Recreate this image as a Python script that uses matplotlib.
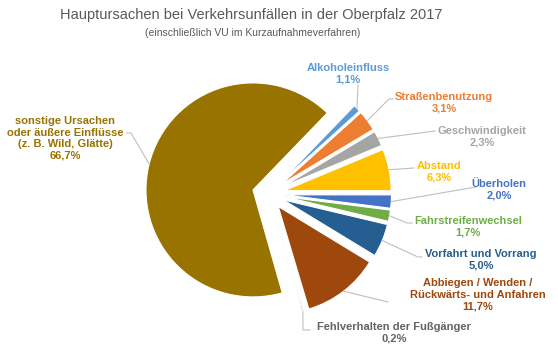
import numpy as np
import matplotlib
matplotlib.use("Agg")
import matplotlib.pyplot as plt

categories = ["Alkoholeinfluss", "Straßenbenutzung", "Geschwindigkeit", "Abstand",
              "Überholen", "Fahrstreifenwechsel", "Vorfahrt und Vorrang",
              "Abbiegen / Wenden /\nRückwärts- und Anfahren",
              "Fehlverhalten der Fußgänger",
              "sonstige Ursachen\noder äußere Einflüsse\n(z. B. Wild, Glätte)"]
values = [1.1, 3.1, 2.3, 6.3, 2.0, 1.7, 5.0, 11.7, 0.2, 66.7]
value_labels = ["1,1%", "3,1%", "2,3%", "6,3%", "2,0%", "1,7%", "5,0%", "11,7%", "0,2%", "66,7%"]
colors = ["#5B9BD5", "#ED7D31", "#A5A5A5", "#FFC000", "#4472C4", "#70AD47",
          "#255E91", "#9E480E", "#636363", "#997300"]
text_colors = ["#5B9BD5", "#ED7D31", "#A5A5A5", "#FFC000", "#4472C4", "#70AD47",
               "#255E91", "#9E480E", "#636363", "#997300"]

W, H = 558, 354
fig = plt.figure(figsize=(W / 100, H / 100), dpi=100)
ax = fig.add_axes([0, 0, 1, 1])

def P(x, y):
    return (x, H - y)

R = 107
EXPL = 16
cx, cy = P(268.5, 193.8)
wedges, _ = ax.pie(values, colors=colors, startangle=46, counterclock=False,
                   radius=R, center=(cx, cy), explode=[EXPL] * len(values),
                   wedgeprops=dict(edgecolor="white", linewidth=0.8),
                   frame=True)
ax.set_xlim(0, W)
ax.set_ylim(0, H)
ax.set_aspect("equal")
ax.axis("off")

# label layout: text center (px), leader path points (px) after the wedge point
label_pos = [
    ((348, 73.5), [(358, 85)]),
    ((444, 103), [(389, 99), (393, 99)]),
    ((482, 136.5), [(435, 131)]),
    ((439, 171.5), [(414, 168)]),
    ((499, 190), [(476, 187)]),
    ((468, 226.5), [(407, 223), (412, 223)]),
    ((481, 260), [(418, 257), (422, 257)]),
    ((478, 295), [(388, 302)]),
    ((394, 333), [(303, 330), (310, 330)]),
    ((65, 138.5), [(131, 133), (127, 133)]),
]

for w, cat, vl, tc, (tpos, path) in zip(wedges, categories, value_labels, text_colors, label_pos):
    mid = np.deg2rad((w.theta1 + w.theta2) / 2)
    sx = w.center[0] + w.r * np.cos(mid)
    sy = w.center[1] + w.r * np.sin(mid)
    xs = [sx] + [p[0] for p in path]
    ys = [sy] + [H - p[1] for p in path]
    ax.plot(xs, ys, color="#BFBFBF", lw=0.8, zorder=1)
    ax.text(*P(*tpos), cat + "\n" + vl, ha="center", va="center", color=tc,
            fontsize=8, fontweight="bold", family="Liberation Sans",
            linespacing=1.2)

ax.text(*P(251, 15), "Hauptursachen bei Verkehrsunfällen in der Oberpfalz 2017",
        ha="center", va="center", fontsize=10.5, color="#595959", family="Liberation Sans")
ax.text(*P(253, 33), "(einschließlich VU im Kurzaufnahmeverfahren)",
        ha="center", va="center", fontsize=7.5, color="#595959", family="Liberation Sans")

fig.savefig("out.png", dpi=100)
